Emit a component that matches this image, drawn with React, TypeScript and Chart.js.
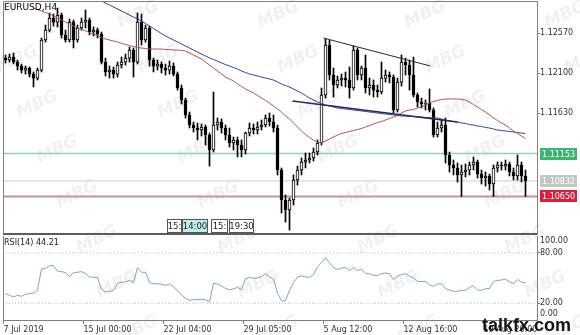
import React, { useEffect, useRef } from 'react';
import { Chart, registerables } from 'chart.js';

Chart.register(...registerables);

// ---------------- DATA ----------------
const SYMBOL_TITLE = 'EURUSD,H4';
const RSI_TITLE = 'RSI(14) 44.21';

const OPEN = [
  1.12276, 1.12253, 1.12288, 1.12229, 1.12182, 1.12135, 1.12159, 1.12088, 1.12041, 1.12135,
  1.12488, 1.12605, 1.12746, 1.12699, 1.12782, 1.12547, 1.12488, 1.12699, 1.12488, 1.12629,
  1.12699, 1.12723, 1.12582, 1.12605, 1.12558, 1.12229, 1.12112, 1.12135, 1.12088, 1.12194,
  1.12229, 1.12276, 1.1237, 1.12229, 1.12699, 1.12488, 1.12629, 1.12253, 1.12182, 1.12206,
  1.12159, 1.12135, 1.12182, 1.12088, 1.11924, 1.11783, 1.11607, 1.11489, 1.11454, 1.1143,
  1.11466, 1.11372, 1.11195, 1.11489, 1.11524, 1.11454, 1.11372, 1.11278, 1.11313, 1.11254,
  1.11195, 1.11395, 1.11454, 1.1143, 1.11466, 1.11489, 1.11571, 1.11524, 1.11454, 1.1096,
  1.10608, 1.1049, 1.10608, 1.10843, 1.1096, 1.11054, 1.11078, 1.11101, 1.11172, 1.11278,
  1.11842, 1.12429, 1.12077, 1.11959, 1.12018, 1.12041, 1.12018, 1.11924, 1.1237, 1.12077,
  1.12159, 1.11924, 1.11959, 1.119, 1.11877, 1.12041, 1.12077, 1.12053, 1.11665, 1.11994,
  1.12229, 1.12194, 1.12077, 1.11842, 1.11759, 1.11736, 1.11748, 1.11665, 1.11372, 1.11454,
  1.11489, 1.11137, 1.11019, 1.10984, 1.10902, 1.10937, 1.1096, 1.11019, 1.11054, 1.10913,
  1.10866, 1.1089, 1.10796, 1.10984, 1.11019, 1.11007, 1.11031, 1.10937, 1.1089, 1.11019,
  1.1089,
];

const HIGH = [
  1.12312, 1.12323, 1.12335, 1.12253, 1.12206, 1.12182, 1.12171, 1.12112, 1.12159, 1.12511,
  1.12664, 1.12805, 1.12793, 1.12864, 1.12805, 1.12605, 1.12735, 1.12723, 1.12664, 1.12746,
  1.1284, 1.12746, 1.12641, 1.12629, 1.12582, 1.12276, 1.12182, 1.12171, 1.12229, 1.12288,
  1.12323, 1.12406, 1.12394, 1.12805, 1.12793, 1.12664, 1.12652, 1.12276, 1.12253, 1.12229,
  1.12206, 1.12241, 1.12218, 1.12112, 1.11959, 1.11806, 1.11642, 1.11524, 1.11513, 1.11501,
  1.11489, 1.11395, 1.11877, 1.11571, 1.1156, 1.11489, 1.11454, 1.11348, 1.11348, 1.11313,
  1.11407, 1.11513, 1.11501, 1.11524, 1.11548, 1.11607, 1.1163, 1.11607, 1.11489, 1.10984,
  1.10667, 1.10631, 1.10902, 1.11007, 1.11101, 1.1116, 1.1116, 1.11219, 1.11313, 1.11924,
  1.125, 1.12488, 1.12159, 1.12065, 1.12088, 1.12112, 1.12171, 1.12417, 1.12394, 1.12182,
  1.12312, 1.12041, 1.12018, 1.11959, 1.12229, 1.12135, 1.12112, 1.12077, 1.12041, 1.12312,
  1.12276, 1.12253, 1.12288, 1.11865, 1.11806, 1.11783, 1.11912, 1.11689, 1.11524, 1.11548,
  1.11571, 1.11172, 1.11078, 1.11043, 1.11019, 1.11031, 1.11054, 1.11113, 1.11078, 1.1096,
  1.10937, 1.10913, 1.11019, 1.11054, 1.11054, 1.11078, 1.11054, 1.10984, 1.11137, 1.11054,
  1.1096,
];

const LOW = [
  1.12218, 1.12229, 1.12206, 1.12135, 1.121, 1.12088, 1.12053, 1.11936, 1.12018, 1.12112,
  1.12464, 1.12582, 1.12652, 1.12641, 1.12511, 1.12464, 1.12464, 1.12394, 1.12464, 1.12605,
  1.12629, 1.12547, 1.12535, 1.12511, 1.12206, 1.12065, 1.12041, 1.12041, 1.12053, 1.12159,
  1.12194, 1.12229, 1.12053, 1.12206, 1.12429, 1.12464, 1.12182, 1.12112, 1.12135, 1.121,
  1.12077, 1.12088, 1.12065, 1.119, 1.11736, 1.11571, 1.11454, 1.11407, 1.11313, 1.1136,
  1.11254, 1.11007, 1.11172, 1.1143, 1.11395, 1.11313, 1.11231, 1.11195, 1.11113, 1.11113,
  1.11148, 1.1136, 1.11383, 1.11383, 1.1143, 1.11466, 1.11477, 1.11407, 1.10902, 1.10455,
  1.10349, 1.10255, 1.10549, 1.10784, 1.10902, 1.10984, 1.11043, 1.11066, 1.11137, 1.11254,
  1.11806, 1.12018, 1.11818, 1.11924, 1.11947, 1.11936, 1.11806, 1.119, 1.12018, 1.12018,
  1.11865, 1.11842, 1.11818, 1.11818, 1.11853, 1.11994, 1.11983, 1.1163, 1.11642, 1.11947,
  1.12077, 1.119, 1.11818, 1.11701, 1.11689, 1.11665, 1.11642, 1.11348, 1.11348, 1.11407,
  1.11043, 1.10937, 1.10902, 1.10819, 1.1065, 1.10878, 1.10902, 1.1096, 1.10866, 1.10796,
  1.10772, 1.10725, 1.1065, 1.10937, 1.1096, 1.1096, 1.1089, 1.10843, 1.10843, 1.10819,
  1.1065,
];

const CLOSE = [
  1.12253, 1.12288, 1.12229, 1.12182, 1.12135, 1.12159, 1.12088, 1.12041, 1.12135, 1.12488,
  1.12605, 1.12746, 1.12699, 1.12782, 1.12547, 1.12488, 1.12699, 1.12488, 1.12629, 1.12699,
  1.12723, 1.12582, 1.12605, 1.12558, 1.12229, 1.12112, 1.12135, 1.12088, 1.12194, 1.12229,
  1.12276, 1.1237, 1.12229, 1.12699, 1.12488, 1.12629, 1.12253, 1.12182, 1.12206, 1.12159,
  1.12135, 1.12182, 1.12088, 1.11924, 1.11783, 1.11607, 1.11489, 1.11454, 1.1143, 1.11466,
  1.11372, 1.11195, 1.11489, 1.11524, 1.11454, 1.11372, 1.11278, 1.11313, 1.11254, 1.11195,
  1.11395, 1.11454, 1.1143, 1.11466, 1.11489, 1.11571, 1.11524, 1.11454, 1.1096, 1.10608,
  1.1049, 1.10608, 1.10843, 1.1096, 1.11054, 1.11078, 1.11101, 1.11172, 1.11278, 1.11842,
  1.12429, 1.12077, 1.11959, 1.12018, 1.12041, 1.12018, 1.11924, 1.1237, 1.12077, 1.12159,
  1.11924, 1.11959, 1.119, 1.11877, 1.12041, 1.12077, 1.12053, 1.11665, 1.11994, 1.12229,
  1.12194, 1.12077, 1.11842, 1.11759, 1.11736, 1.11748, 1.11665, 1.11372, 1.11454, 1.11489,
  1.11137, 1.11019, 1.10984, 1.10902, 1.10937, 1.1096, 1.11019, 1.11054, 1.10913, 1.10866,
  1.1089, 1.10796, 1.10984, 1.11019, 1.11007, 1.11031, 1.10937, 1.1089, 1.11019, 1.1089,
  1.10832,
];

// fast moving average (red), first value belongs to bar 7
const MA_FAST_START = 7;
const MA_FAST = [
  1.12864, 1.12846, 1.12829, 1.12811, 1.12794, 1.1277, 1.12747, 1.12723, 1.127, 1.12676,
  1.12653, 1.12629, 1.12611, 1.12594, 1.12576, 1.12559, 1.12541, 1.12517, 1.125, 1.12488,
  1.12476, 1.12465, 1.12447, 1.12435, 1.12423, 1.12412, 1.124, 1.12394, 1.12388, 1.12382,
  1.12382, 1.12382, 1.12382, 1.12376, 1.12376, 1.1237, 1.1237, 1.12365, 1.12359, 1.12335,
  1.12312, 1.12288, 1.12265, 1.12229, 1.12194, 1.12159, 1.12124, 1.12088, 1.12053, 1.1203,
  1.12006, 1.11971, 1.11942, 1.11912, 1.11889, 1.11865, 1.11836, 1.11807, 1.11777, 1.11748,
  1.11713, 1.11677, 1.11642, 1.11595, 1.1156, 1.11513, 1.11466, 1.11419, 1.11378, 1.11342,
  1.11313, 1.1129, 1.11278, 1.11301, 1.11325, 1.11348, 1.11372, 1.11389, 1.11401, 1.11413,
  1.11425, 1.11436, 1.11448, 1.11466, 1.11483, 1.11501, 1.11519, 1.1153, 1.11548, 1.11566,
  1.11583, 1.11601, 1.1163, 1.11654, 1.11665, 1.11671, 1.11689, 1.11701, 1.11724, 1.11748,
  1.11765, 1.11777, 1.11789, 1.11795, 1.11795, 1.11795, 1.11795, 1.11789, 1.11783, 1.11759,
  1.1173, 1.11701, 1.11671, 1.11642, 1.11607, 1.11572, 1.11542, 1.11513, 1.11489, 1.11454,
  1.11419, 1.11389, 1.1136, 1.11331,
];

// slow moving average (blue), first value belongs to bar 22
const MA_SLOW_START = 22;
const MA_SLOW = [
  1.12993, 1.1297, 1.12946, 1.12923, 1.12899, 1.12876, 1.12852, 1.12829, 1.12805, 1.12782,
  1.12758, 1.12735, 1.12711, 1.12682, 1.12653, 1.12623, 1.12594, 1.12564, 1.12535, 1.12512,
  1.12488, 1.12465, 1.12441, 1.12418, 1.12394, 1.1237, 1.12347, 1.12323, 1.123, 1.12277,
  1.12259, 1.12241, 1.12218, 1.122, 1.12183, 1.12165, 1.12147, 1.12124, 1.12106, 1.12089,
  1.12077, 1.12065, 1.12053, 1.12042, 1.1203, 1.12018, 1.11995, 1.11971, 1.11953, 1.11936,
  1.11912, 1.11889, 1.11865, 1.11836, 1.11807, 1.11783, 1.1176, 1.11742, 1.11724, 1.11713,
  1.11701, 1.11689, 1.11683, 1.11677, 1.11671, 1.11665, 1.1166, 1.11654, 1.11648, 1.11642,
  1.11636, 1.1163, 1.11624, 1.11619, 1.11613, 1.11607, 1.11601, 1.11595, 1.11595, 1.11589,
  1.11589, 1.11583, 1.11583, 1.11577, 1.11577, 1.11572, 1.11572, 1.1156, 1.11548, 1.11536,
  1.1153, 1.11525, 1.11513, 1.11507, 1.11495, 1.11489, 1.11478, 1.11472, 1.1146, 1.11454,
  1.11442, 1.11431, 1.11425, 1.11419, 1.11413, 1.11407, 1.11401, 1.11395, 1.11389,
];

const RSI = [
  31.4, 29.4, 27.4, 29.4, 28.2, 30.6, 31.4, 31.8, 35.9, 60.6,
  61.5, 64.7, 64.7, 58.2, 57.6, 56.5, 51.8, 56.5, 56.8, 57.6,
  55.3, 51.2, 50.9, 50.6, 36.5, 33.3, 34.1, 35.3, 43.5, 45.1,
  45.1, 47.6, 44.5, 62.4, 56.8, 56.8, 44.7, 43.2, 43.2, 42.4,
  41.2, 42.9, 39.4, 34.7, 30.0, 25.9, 23.5, 24.4, 24.0, 24.7,
  24.1, 21.8, 43.5, 42.9, 40.6, 37.6, 35.9, 37.1, 38.8, 35.9,
  49.1, 50.6, 49.8, 50.0, 51.8, 55.2, 51.2, 48.8, 31.8, 22.9,
  22.9, 35.3, 44.7, 50.9, 52.4, 51.2, 50.9, 54.1, 63.5, 68.2,
  74.1, 68.2, 62.4, 60.0, 61.8, 62.4, 58.8, 62.4, 58.8, 60.6,
  55.3, 55.2, 52.9, 52.9, 55.3, 55.9, 55.3, 48.2, 52.4, 54.1,
  55.0, 52.4, 50.0, 45.9, 45.9, 45.9, 41.8, 40.0, 43.2, 43.0,
  37.3, 35.6, 34.1, 34.1, 35.3, 35.3, 38.8, 40.6, 35.9, 35.3,
  37.3, 37.3, 45.9, 47.1, 47.6, 48.8, 45.3, 43.5, 48.2, 45.1,
  44.21,
];

const PRICE_TICKS = [1.1257, 1.121, 1.1163];
const LEVEL_VALUES = [1.11153, 1.10832, 1.1065];
const UPPER_TREND = [{ bar: 79.5, price: 1.12511 }, { bar: 106.25, price: 1.12182 }];
const LOWER_TREND = [{ bar: 71.75, price: 1.11771 }, { bar: 113, price: 1.11524 }];
const RSI_LEVELS = [20, 80];
const RSI_EDGE_LABELS = [100, 0];
const TIME_TICK_BARS = [-0.5, 19.5, 39.5, 59.5, 79.5, 99.5, 119.5];
const TIME_LABELS = ['7 Jul 2019', '15 Jul 00:00', '22 Jul 04:00', '29 Jul 05:00', '5 Aug 12:00', '12 Aug 16:00', '19 Aug 20:00'];
const TIME_BOX_LABELS = ['15:', '14:00', '15:', '19:30'];

// ---------------- STYLE ----------------
const X_MIN = -0.625;
const X_MAX = 132.875;
const Y_MIN = 1.102085;
const Y_MAX = 1.129463;
const FONT = 'DejaVu Sans';
const LEVEL_LINE_COLORS = ['#95d1b7', '#cfcfcf', '#c4949c'];
const LEVEL_LINE_WIDTHS = [1.5, 1, 2];
const LEVEL_BOX_COLORS = ['#3cb56f', '#c4c4c4', '#dc1f3c'];
const TIME_BOX_GEOM = [
  { x: 167, w: 15, fill: '#ffffff' },
  { x: 182, w: 26, fill: '#bdeeee' },
  { x: 211, w: 17, fill: '#ffffff' },
  { x: 229, w: 25, fill: '#ffffff' },
];

function drawWatermarks(ctx: CanvasRenderingContext2D, h: number, offsetY: number) {
  ctx.save();
  ctx.fillStyle = 'rgba(0,0,0,0.06)';
  ctx.font = `bold italic 17px ${FONT}`;
  for (const x0 of [-7, 134, 274, 421, 561]) {
    for (let r = -1; r < 9; r++) {
      const x = x0 + 20 * r;
      const y = 15 + 45 * r - offsetY;
      if (y < -25 || y > h + 25) continue;
      ctx.save();
      ctx.translate(x, y);
      ctx.rotate(-0.45);
      ctx.fillText('MBG', -18, 6);
      ctx.restore();
    }
  }
  ctx.restore();
}

const zeroPad = (s: any) => {
  s.paddingTop = 0;
  s.paddingBottom = 0;
  s.paddingLeft = 0;
  s.paddingRight = 0;
};

const mainPlugin = {
  id: 'mainDeco',
  beforeDraw(chart: any) {
    const { ctx, width, height } = chart;
    ctx.save();
    ctx.fillStyle = '#ffffff';
    ctx.fillRect(0, 0, width, height);
    ctx.restore();
    drawWatermarks(ctx, height, 0);
  },
  afterDraw(chart: any) {
    const { ctx, chartArea: a } = chart;
    const y = chart.scales.y;
    ctx.save();
    ctx.strokeStyle = '#808080';
    ctx.lineWidth = 1;
    ctx.beginPath();
    ctx.moveTo(a.left + 0.5, a.bottom);
    ctx.lineTo(a.left + 0.5, a.top + 0.5);
    ctx.lineTo(a.right, a.top + 0.5);
    ctx.stroke();
    ctx.strokeStyle = '#5c5c5c';
    ctx.lineWidth = 2;
    ctx.beginPath();
    ctx.moveTo(a.left, a.bottom);
    ctx.lineTo(a.right, a.bottom);
    ctx.stroke();

    ctx.font = `8px ${FONT}`;
    ctx.textBaseline = 'middle';
    ctx.textAlign = 'left';
    LEVEL_VALUES.forEach((v, k) => {
      const py = Math.round(y.getPixelForValue(v));
      ctx.fillStyle = LEVEL_BOX_COLORS[k];
      ctx.fillRect(a.right + 3, py - 6, 37, 12);
      ctx.fillStyle = '#ffffff';
      ctx.fillText(v.toFixed(5), a.right + 5, py + 0.5);
    });

    ctx.fillStyle = '#000000';
    ctx.font = `9px ${FONT}`;
    ctx.textBaseline = 'top';
    ctx.fillText(SYMBOL_TITLE, 4, 3);

    ctx.font = `8.5px ${FONT}`;
    ctx.textBaseline = 'middle';
    ctx.textAlign = 'center';
    TIME_BOX_LABELS.forEach((t, k) => {
      const g = TIME_BOX_GEOM[k];
      ctx.fillStyle = g.fill;
      ctx.fillRect(g.x, 219, g.w, 14);
      ctx.strokeStyle = '#555555';
      ctx.lineWidth = 1;
      ctx.strokeRect(g.x + 0.5, 219.5, g.w - 1, 13);
      ctx.fillStyle = '#222222';
      ctx.fillText(t, g.x + g.w / 2, 226.5);
    });
    ctx.restore();
  },
};

const rsiPlugin = {
  id: 'rsiDeco',
  beforeDraw(chart: any) {
    const { ctx, width, height } = chart;
    ctx.save();
    ctx.fillStyle = '#ffffff';
    ctx.fillRect(0, 0, width, height);
    ctx.restore();
    drawWatermarks(ctx, height, 236);
  },
  afterDraw(chart: any) {
    const { ctx, chartArea: a } = chart;
    const y = chart.scales.y;
    ctx.save();
    ctx.strokeStyle = '#808080';
    ctx.lineWidth = 1;
    ctx.beginPath();
    ctx.moveTo(a.left + 0.5, a.top);
    ctx.lineTo(a.left + 0.5, a.bottom);
    ctx.stroke();

    ctx.fillStyle = '#222222';
    ctx.font = `8px ${FONT}`;
    ctx.textBaseline = 'top';
    ctx.textAlign = 'left';
    ctx.fillText(RSI_TITLE, 4, 3);

    ctx.fillStyle = '#333333';
    ctx.textBaseline = 'middle';
    RSI_EDGE_LABELS.forEach((v) => {
      const py = y.getPixelForValue(v) + (v > 50 ? 5 : -6);
      ctx.fillText(v.toFixed(2), a.right + 3, py);
    });

    ctx.fillStyle = '#151515';
    ctx.font = `bold 18px "Liberation Sans"`;
    ctx.textBaseline = 'alphabetic';
    ctx.fillText('talkfx.com', 482, 95);
    ctx.restore();
  },
};

const tickFont = { family: FONT, size: 8 };

function mainConfig(): any {
  return {
    type: 'bar',
    data: {
      datasets: [
        {
          type: 'line', label: 'MA fast',
          data: MA_FAST.map((v, k) => ({ x: MA_FAST_START + k, y: v })),
          borderColor: '#b5504f', borderWidth: 1, pointRadius: 0, order: -1,
        },
        {
          type: 'line', label: 'MA slow',
          data: MA_SLOW.map((v, k) => ({ x: MA_SLOW_START + k, y: v })),
          borderColor: '#3a3f9e', borderWidth: 1, pointRadius: 0, order: -1,
        },
        {
          type: 'line', label: 'Upper trend',
          data: UPPER_TREND.map((p) => ({ x: p.bar, y: p.price })),
          borderColor: '#2a2a2a', borderWidth: 1, pointRadius: 0, order: -2,
        },
        {
          type: 'line', label: 'Lower trend',
          data: LOWER_TREND.map((p) => ({ x: p.bar, y: p.price })),
          borderColor: '#26275f', borderWidth: 1.5, pointRadius: 0, order: -2,
        },
        {
          type: 'bar', label: 'Body',
          data: OPEN.map((o, i) => ({ x: i, y: [o, CLOSE[i]] })),
          backgroundColor: (c: any) => (CLOSE[c.dataIndex] >= OPEN[c.dataIndex] ? '#ffffff' : '#000000'),
          borderColor: '#000000', borderWidth: 1, borderSkipped: false,
          barThickness: 3, grouped: false, minBarLength: 1, order: 0,
        },
        {
          type: 'bar', label: 'Wick',
          data: LOW.map((l, i) => ({ x: i, y: [l, HIGH[i]] })),
          backgroundColor: '#000000', borderWidth: 0,
          barThickness: 1, grouped: false, order: 1,
        },
        ...LEVEL_VALUES.map((v, k) => ({
          type: 'line', label: 'Level ' + v,
          data: [{ x: X_MIN, y: v }, { x: X_MAX, y: v }],
          borderColor: LEVEL_LINE_COLORS[k], borderWidth: LEVEL_LINE_WIDTHS[k], pointRadius: 0, order: 10,
        })),
      ],
    },
    options: {
      responsive: false,
      animation: false,
      devicePixelRatio: 1,
      events: [],
      layout: { padding: { left: 3, right: 0, top: 1, bottom: 2 } },
      plugins: { legend: { display: false }, tooltip: { enabled: false } },
      scales: {
        x: { type: 'linear', min: X_MIN, max: X_MAX, offset: false, display: false, grid: { offset: false } },
        y: {
          position: 'right', min: Y_MIN, max: Y_MAX,
          afterFit: (s: any) => { s.width = 43; zeroPad(s); },
          afterBuildTicks: (s: any) => { s.ticks = PRICE_TICKS.map((v) => ({ value: v })); },
          ticks: { callback: (v: any) => Number(v).toFixed(5), font: tickFont, color: '#333333', padding: 0 },
          grid: { drawOnChartArea: false, tickLength: 3, color: '#808080' },
          border: { color: '#808080' },
        },
      },
    },
    plugins: [mainPlugin],
  };
}

function rsiConfig(): any {
  return {
    type: 'line',
    data: {
      datasets: [
        {
          label: 'RSI(14)',
          data: RSI.map((v, i) => ({ x: i, y: v })),
          borderColor: '#72a8ca', borderWidth: 1, pointRadius: 0, order: 0,
        },
        ...RSI_LEVELS.map((v) => ({
          label: 'RSI level ' + v,
          data: [{ x: X_MIN, y: v }, { x: X_MAX, y: v }],
          borderColor: '#b5b5b5', borderWidth: 1, borderDash: [1, 2], pointRadius: 0, order: 1,
        })),
      ],
    },
    options: {
      responsive: false,
      animation: false,
      devicePixelRatio: 1,
      events: [],
      layout: { padding: { left: 3, right: 0, top: 0, bottom: 0 } },
      plugins: { legend: { display: false }, tooltip: { enabled: false } },
      scales: {
        x: {
          type: 'linear', min: X_MIN, max: X_MAX, position: 'bottom', offset: false,
          afterFit: (s: any) => { s.height = 15; zeroPad(s); },
          afterBuildTicks: (s: any) => { s.ticks = TIME_TICK_BARS.map((v) => ({ value: v })); },
          ticks: {
            callback: (_v: any, idx: number) => TIME_LABELS[idx] ?? '',
            align: 'start', maxRotation: 0, minRotation: 0, autoSkip: false,
            font: tickFont, color: '#333333', padding: 1,
          },
          grid: { drawOnChartArea: false, tickLength: 4, color: '#808080' },
          border: { color: '#808080' },
        },
        y: {
          position: 'right', min: 0, max: 100,
          afterFit: (s: any) => { s.width = 43; zeroPad(s); },
          afterBuildTicks: (s: any) => { s.ticks = RSI_LEVELS.map((v) => ({ value: v })); },
          ticks: { callback: (v: any) => Number(v).toFixed(2), font: tickFont, color: '#333333', padding: 0 },
          grid: { drawOnChartArea: false, tickLength: 3, color: '#808080' },
          border: { color: '#808080' },
        },
      },
    },
    plugins: [rsiPlugin],
  };
}

export default function App() {
  const mainRef = useRef<HTMLCanvasElement>(null);
  const rsiRef = useRef<HTMLCanvasElement>(null);

  useEffect(() => {
    const main = new Chart(mainRef.current as HTMLCanvasElement, mainConfig());
    const rsi = new Chart(rsiRef.current as HTMLCanvasElement, rsiConfig());
    return () => {
      main.destroy();
      rsi.destroy();
    };
  }, []);

  return (
    <div style={{ position: 'absolute', left: 0, top: 0, width: 580, height: 335, background: '#ffffff', overflow: 'hidden' }}>
      <canvas ref={mainRef} width={580} height={236} style={{ position: 'absolute', left: 0, top: 0, width: 580, height: 236 }} />
      <canvas ref={rsiRef} width={580} height={99} style={{ position: 'absolute', left: 0, top: 236, width: 580, height: 99 }} />
    </div>
  );
}
